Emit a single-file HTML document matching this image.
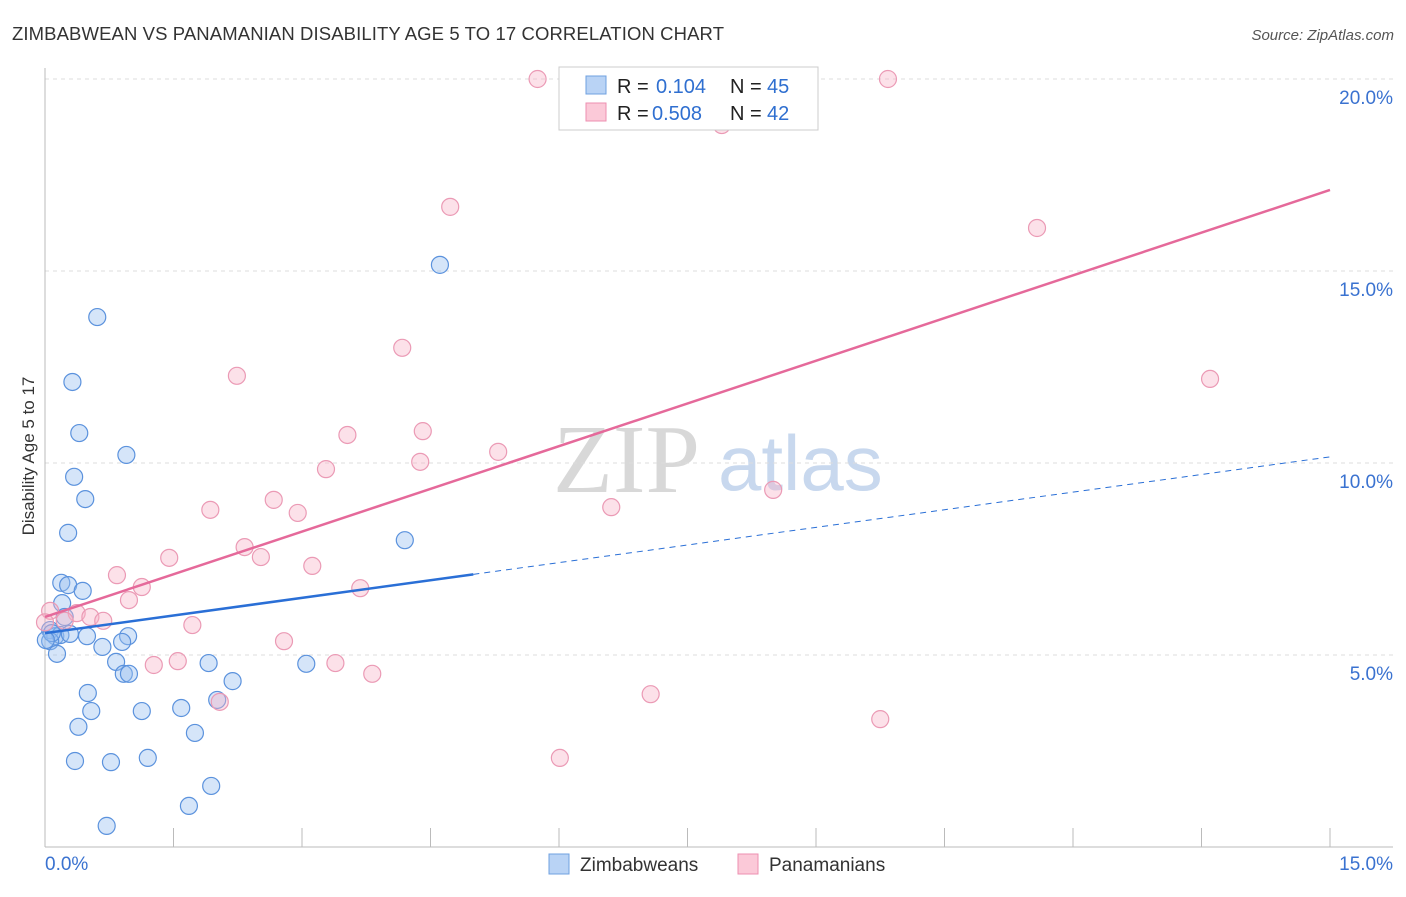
<!DOCTYPE html>
<html><head><meta charset="utf-8"><style>
body{margin:0;background:#fff;font-family:"Liberation Sans",sans-serif}
</style></head><body>
<svg id="c" width="1406" height="892" xmlns="http://www.w3.org/2000/svg" font-family="Liberation Sans, sans-serif">
<text x="12" y="40" font-size="18.5" textLength="712" fill="#333">ZIMBABWEAN VS PANAMANIAN DISABILITY AGE 5 TO 17 CORRELATION CHART</text>
<text x="1394" y="40" font-size="15" fill="#555" text-anchor="end" font-style="italic">Source: ZipAtlas.com</text>
<text x="0" y="0" transform="translate(34,456) rotate(-90)" font-size="17" fill="#333" text-anchor="middle">Disability Age 5 to 17</text>
<text x="553" y="492" font-size="98" fill="#d8d8d8" font-family="Liberation Serif, serif">ZIP</text>
<text x="718" y="490" font-size="78" fill="#c8d8ee">atlas</text>
<g id="grid"></g><g id="pts"></g><g id="lines"></g>
<g>
<rect x="559" y="67" width="259" height="63" fill="#fff" stroke="#ccc"/>
<rect x="586" y="76" width="20" height="18" fill="#b9d3f5" stroke="#6fa0e0"/>
<rect x="586" y="103" width="20" height="18" fill="#fbc9d8" stroke="#ee8fb0"/>
<text x="617" y="93" font-size="20" fill="#222">R =</text><text x="656" y="93" font-size="20" fill="#2f6fd0">0.104</text>
<text x="730" y="93" font-size="20" fill="#222">N =</text><text x="767" y="93" font-size="20" fill="#2f6fd0">45</text>
<text x="617" y="120" font-size="20" fill="#222">R =</text><text x="652" y="120" font-size="20" fill="#2f6fd0">0.508</text>
<text x="730" y="120" font-size="20" fill="#222">N =</text><text x="767" y="120" font-size="20" fill="#2f6fd0">42</text>
</g>
<g>
<rect x="549" y="854" width="20" height="20" fill="#b9d3f5" stroke="#6fa0e0"/>
<text x="580" y="871" font-size="19" fill="#333">Zimbabweans</text>
<rect x="738" y="854" width="20" height="20" fill="#fbc9d8" stroke="#ee8fb0"/>
<text x="769" y="871" font-size="19" fill="#333">Panamanians</text>
</g>
</svg>
<script>
const yTicks=[5,10,15,20];
const yTickLabels=["5.0%","10.0%","15.0%","20.0%"];
const xTickLabels=["0.0%","15.0%"];
const zimX=[0.61,0.32,0.40,0.34,0.95,0.47,0.27,4.61,4.20,0.19,0.27,0.44,0.20,0.23,0.06,0.12,0.18,0.29,0.06,0.14,0.49,0.97,0.90,0.67,0.83,0.92,0.98,1.91,3.05,2.19,0.50,0.54,1.13,1.59,2.01,0.39,1.75,0.35,0.77,1.20,1.94,1.68,0.72,0.08,0.01];
const zimY=[13.80,12.11,10.78,9.64,10.21,9.06,8.18,15.16,7.99,6.88,6.82,6.67,6.35,5.99,5.65,5.49,5.52,5.55,5.36,5.03,5.49,5.49,5.34,5.21,4.82,4.51,4.51,4.79,4.77,4.32,4.01,3.54,3.54,3.62,3.83,3.13,2.97,2.24,2.21,2.32,1.59,1.07,0.55,5.57,5.39];
const panX=[5.75,9.84,7.90,4.73,11.58,4.17,2.24,13.60,3.53,4.41,5.29,4.38,3.28,8.50,2.67,1.93,2.95,6.61,2.33,2.52,1.45,3.12,0.84,1.13,3.68,0.98,0.06,0.37,0.53,0.68,0.23,1.72,2.79,1.55,1.27,3.39,3.82,2.04,7.07,9.75,6.01,0.0];
const panY=[20.0,20.0,18.80,16.67,16.12,13.0,12.27,12.19,10.73,10.83,10.29,10.03,9.84,9.30,9.04,8.78,8.70,8.85,7.81,7.55,7.53,7.32,7.08,6.77,6.74,6.43,6.15,6.09,5.99,5.89,5.89,5.78,5.36,4.84,4.74,4.79,4.51,3.78,3.98,3.33,2.32,5.85];
const zimLine=[5.57,10.16];
const panLine=[5.99,17.11];
const X=v=>45+v*(1285/15), Y=v=>847-v*38.4;
const NS="http://www.w3.org/2000/svg";
function mk(t,a,p){const e=document.createElementNS(NS,t);for(const k in a)e.setAttribute(k,a[k]);p.appendChild(e);return e;}
const g=document.getElementById('grid');
yTicks.forEach((t,i)=>{
 const l=mk('line',{x1:45,x2:1393,y1:Y(t),y2:Y(t),stroke:'#ddd','stroke-dasharray':'4,4'},g);
 
 
 const tx=mk('text',{x:1393,y:Y(t)+25,'font-size':19,fill:'#3a72d0','text-anchor':'end'},g);
 tx.textContent=yTickLabels[i];
 
 
});
const ax=mk('line',{x1:45,x2:45,y1:68,y2:847,stroke:'#bbb'},g);


const bx=mk('line',{x1:45,x2:1393,y1:847,y2:847,stroke:'#bbb'},g);


for(let i=0;i<=10;i++){const v=i*1.5;
 const t=mk('line',{x1:X(v),x2:X(v),y1:828,y2:847,stroke:'#bbb'},g);
 
 }
[[0,'start',45],[15,'end',1393]].forEach((d,i)=>{
 const tx=mk('text',{x:d[2],y:870,'font-size':19,fill:'#3a72d0','text-anchor':d[1]},g);
 tx.textContent=xTickLabels[i];
 
 });
const p=document.getElementById('pts');
zimX.forEach((x,i)=>{const c=mk('circle',{cx:X(x),cy:Y(zimY[i]),r:8.5,fill:'rgba(150,190,240,0.4)',stroke:'#5b92dd','stroke-width':1.2},p);
 
 });
panX.forEach((x,i)=>{const c=mk('circle',{cx:X(x),cy:Y(panY[i]),r:8.5,fill:'rgba(248,180,200,0.4)',stroke:'#eb9ab5','stroke-width':1.2},p);
 
 });
const L=document.getElementById('lines');
const zy=x=>zimLine[0]+(zimLine[1]-zimLine[0])*x/15;
const l1=mk('line',{x1:X(0),y1:Y(zy(0)),x2:X(5),y2:Y(zy(5)),stroke:'#2a6fd6','stroke-width':2.5},L);


const l2=mk('line',{x1:X(5),y1:Y(zy(5)),x2:X(15),y2:Y(zy(15)),stroke:'#2a6fd6','stroke-width':1,'stroke-dasharray':'6,5'},L);


const l3=mk('line',{x1:X(0),y1:Y(panLine[0]),x2:X(15),y2:Y(panLine[1]),stroke:'#e5699a','stroke-width':2.5},L);


</script>
</body></html>
